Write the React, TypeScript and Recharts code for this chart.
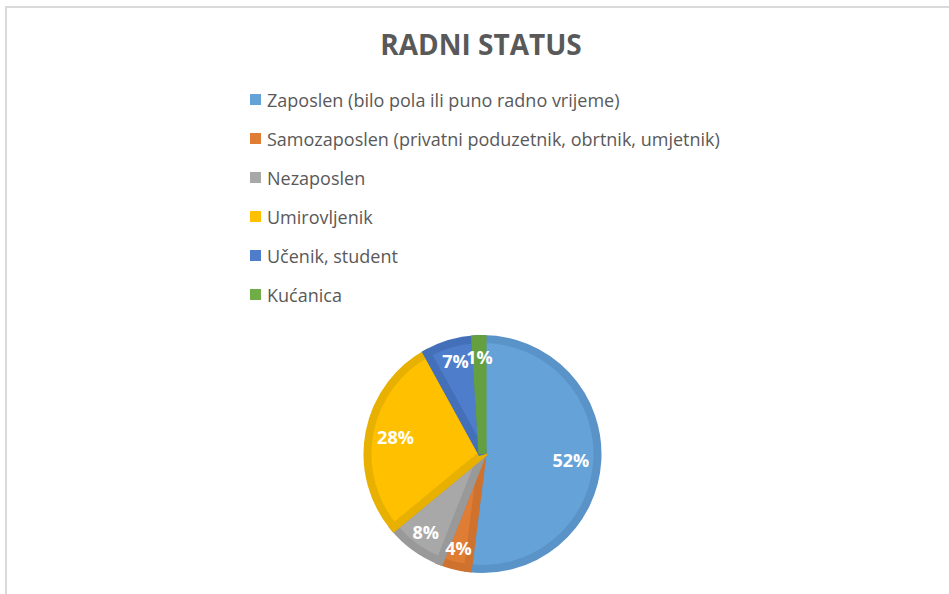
import { PieChart, Pie, Cell } from "recharts";

const categories = [
  "Zaposlen (bilo pola ili puno radno vrijeme)",
  "Samozaposlen (privatni poduzetnik, obrtnik, umjetnik)",
  "Nezaposlen",
  "Umirovljenik",
  "Učenik, student",
  "Kućanica",
];
const shares = [52, 4, 8, 28, 7, 1];
const fills = ["#64A2D8", "#E07D35", "#A8A8A8", "#FFC000", "#4E7ECB", "#70AD47"];
const borders = ["#5A93C8", "#CF722E", "#999999", "#E8B000", "#4470BA", "#64A03F"];

const data = categories.map((name, i) => ({ name, value: shares[i] }));

const RADIAN = Math.PI / 180;

// small slices get their labels pushed out a bit, like Excel's best fit
const renderLabel = (props: any) => {
  const { cx, cy, midAngle, outerRadius, percent } = props;
  const r = percent < 0.1 ? outerRadius * 0.84 : outerRadius * 0.77;
  const x = cx + r * Math.cos(-midAngle * RADIAN);
  const y = cy + r * Math.sin(-midAngle * RADIAN);
  return (
    <text
      x={x}
      y={y}
      fill="#ffffff"
      textAnchor="middle"
      dominantBaseline="central"
      fontFamily="Open Sans"
      fontWeight={700}
      fontSize={18}
    >
      {`${Math.round(percent * 100)}%`}
    </text>
  );
};

export default function App() {
  return (
    <div style={{ position: "absolute", left: 0, top: 0, width: 949, height: 594, background: "#fff", overflow: "hidden" }}>
      <div
        style={{
          position: "absolute",
          left: 5,
          top: 6,
          width: 960,
          height: 600,
          borderLeft: "2px solid #dadada",
          borderTop: "2px solid #dadada",
        }}
      />
      <PieChart
        width={949}
        height={594}
        margin={{ top: 0, right: 0, bottom: 0, left: 0 }}
        style={{ position: "absolute", left: 0, top: 0 }}
      >
        <Pie
          data={data}
          dataKey="value"
          nameKey="name"
          cx={482.5}
          cy={454}
          outerRadius={115}
          startAngle={90}
          endAngle={-270}
          label={renderLabel}
          labelLine={false}
          isAnimationActive={false}
        >
          {data.map((d, i) => (
            <Cell key={d.name} fill={fills[i]} stroke={borders[i]} strokeWidth={8} strokeLinejoin="miter" />
          ))}
        </Pie>
      </PieChart>
      <div
        style={{
          position: "absolute",
          left: 0,
          top: 25,
          width: 962,
          textAlign: "center",
          fontFamily: "Open Sans",
          fontWeight: 700,
          fontSize: 28,
          color: "#595959",
        }}
      >
        RADNI STATUS
      </div>
      <ul style={{ position: "absolute", left: 250, top: 80, listStyle: "none", margin: 0, padding: 0 }}>
        {categories.map((c, i) => (
          <li
            key={c}
            style={{ display: "flex", alignItems: "center", height: 39, fontSize: 18, color: "#595959", fontFamily: "Open Sans", whiteSpace: "nowrap" }}
          >
            <span style={{ width: 11, height: 11, background: fills[i], marginRight: 6, display: "inline-block" }} />
            {c}
          </li>
        ))}
      </ul>
    </div>
  );
}
